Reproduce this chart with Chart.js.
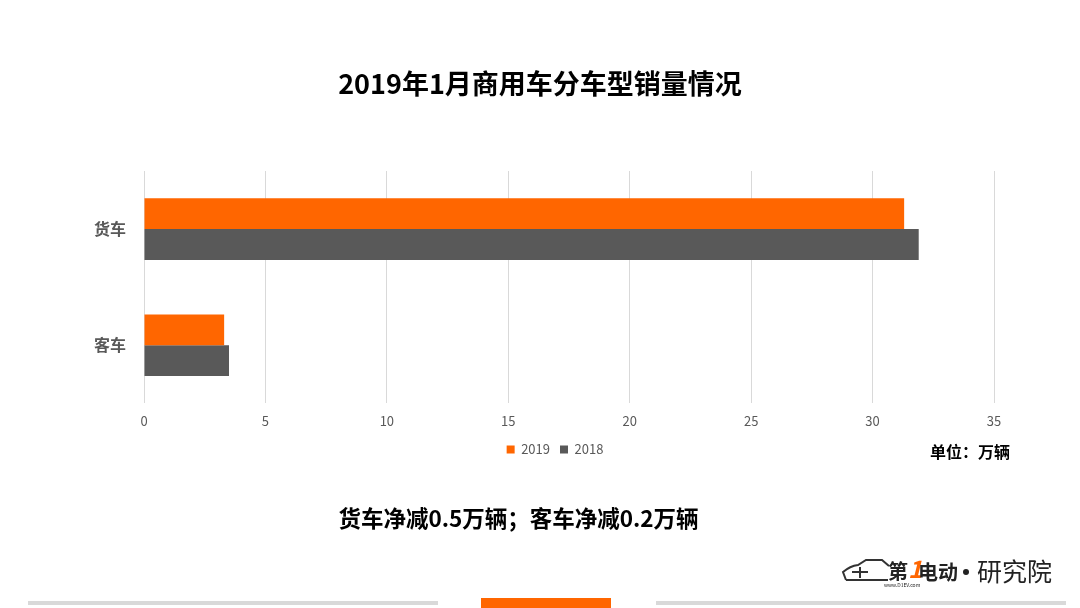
<!DOCTYPE html>
<html>
<head>
<meta charset="utf-8">
<script src="https://cdn.jsdelivr.net/npm/chart.js@4/dist/chart.umd.min.js"></script>
<style>
  html, body { margin: 0; padding: 0; background: #fff; }
  #wrap { width: 1080px; height: 608px; position: relative; }
</style>
</head>
<body>
<div id="wrap"><canvas id="salesChart" width="1080" height="608"></canvas></div>
<script>
// data (unit: 万辆)
const categories = ['货车', '客车'];
const sales2019 = [31.3, 3.3];
const sales2018 = [31.9, 3.5];
const xTicks = [0, 5, 10, 15, 20, 25, 30, 35];

const titleText = '2019年1月商用车分车型销量情况';
const noteText = '货车净减0.5万辆；客车净减0.2万辆';
const unitText = '单位：万辆';

const FONT = "'Noto Sans CJK SC', 'Noto Sans', sans-serif";
const ORANGE = '#ff6600';
const GREY = '#595959';
const LEGEND_CENTER = 555;

// move the legend so it sits where the original one is
const legendShift = {
    id: 'legendShift',
    afterLayout(chart) {
        const lg = chart.legend;
        if (!lg) return;
        const dx = LEGEND_CENTER - (lg.left + lg.right) / 2;
        lg.left += dx;
        lg.right += dx;
    }
};

// title, notes, logo and footer strips
const decorations = {
    id: 'decorations',
    afterDraw(chart) {
        const ctx = chart.ctx;
        ctx.save();
        ctx.textBaseline = 'middle';

        ctx.fillStyle = '#000';
        ctx.textAlign = 'center';
        ctx.font = 'bold 27px ' + FONT;
        ctx.fillText(titleText, 540, 84);

        ctx.font = 'bold 22.5px ' + FONT;
        ctx.fillText(noteText, 518.5, 518);

        ctx.textAlign = 'right';
        ctx.font = 'bold 16px ' + FONT;
        ctx.fillText(unitText, 1010, 452);

        // logo
        ctx.strokeStyle = '#333';
        ctx.lineWidth = 2;
        ctx.beginPath();
        ctx.moveTo(846, 580);
        ctx.lineTo(843, 572);
        ctx.quadraticCurveTo(850, 566, 858, 565);
        ctx.lineTo(866, 560);
        ctx.lineTo(882, 560);
        ctx.lineTo(889, 566);
        ctx.stroke();
        ctx.beginPath();
        ctx.moveTo(852, 572);
        ctx.lineTo(868, 572);
        ctx.moveTo(860, 567);
        ctx.lineTo(860, 578);
        ctx.moveTo(846, 580);
        ctx.lineTo(888, 580);
        ctx.stroke();

        ctx.textAlign = 'left';
        ctx.fillStyle = '#222';
        ctx.font = 'bold 20px ' + FONT;
        ctx.fillText('第', 888, 571);
        ctx.fillStyle = ORANGE;
        ctx.font = 'bold italic 24px ' + FONT;
        ctx.fillText('1', 908, 569);
        ctx.fillStyle = '#222';
        ctx.font = 'bold 20px ' + FONT;
        ctx.fillText('电动', 918, 572);
        ctx.font = '5px ' + FONT;
        ctx.fillText('www.D1EV.com', 884, 585);
        ctx.beginPath();
        ctx.arc(966, 572, 3, 0, Math.PI * 2);
        ctx.fill();
        ctx.font = '25px ' + FONT;
        ctx.fillText('研究院', 977, 571);

        // footer
        ctx.fillStyle = '#d9d9d9';
        ctx.fillRect(28, 601, 410, 4);
        ctx.fillRect(656, 601, 410, 4);
        ctx.fillStyle = ORANGE;
        ctx.fillRect(481, 598, 130, 10);
        ctx.restore();
    }
};

new Chart(document.getElementById('salesChart'), {
    type: 'bar',
    data: {
        labels: categories,
        datasets: [
            {
                label: '2019',
                data: sales2019,
                backgroundColor: ORANGE
            },
            {
                label: '2018',
                data: sales2018,
                backgroundColor: GREY
            }
        ]
    },
    options: {
        indexAxis: 'y',
        responsive: false,
        animation: false,
        devicePixelRatio: 1,
        categoryPercentage: 0.53,
        barPercentage: 1,
        layout: {
            padding: { left: 0, right: 86, top: 171, bottom: 142 }
        },
        scales: {
            x: {
                min: 0,
                max: 35,
                afterBuildTicks: axis => {
                    axis.ticks = xTicks.map(v => ({ value: v }));
                },
                afterFit: axis => { axis.height -= 6; },
                grid: { color: '#d9d9d9', drawTicks: false },
                border: { display: false },
                ticks: {
                    padding: 10,
                    color: GREY,
                    font: { family: FONT, size: 13 }
                }
            },
            y: {
                afterFit: axis => { axis.width = 144; },
                grid: { display: false },
                border: { display: false },
                ticks: {
                    padding: 10,
                    color: GREY,
                    font: { family: FONT, size: 16, weight: 'bold' }
                }
            }
        },
        plugins: {
            legend: {
                position: 'bottom',
                labels: {
                    boxWidth: 8,
                    boxHeight: 8,
                    padding: 10,
                    color: GREY,
                    font: { family: FONT, size: 13 }
                }
            },
            tooltip: { enabled: false }
        }
    },
    plugins: [legendShift, decorations]
});
</script>
</body>
</html>
